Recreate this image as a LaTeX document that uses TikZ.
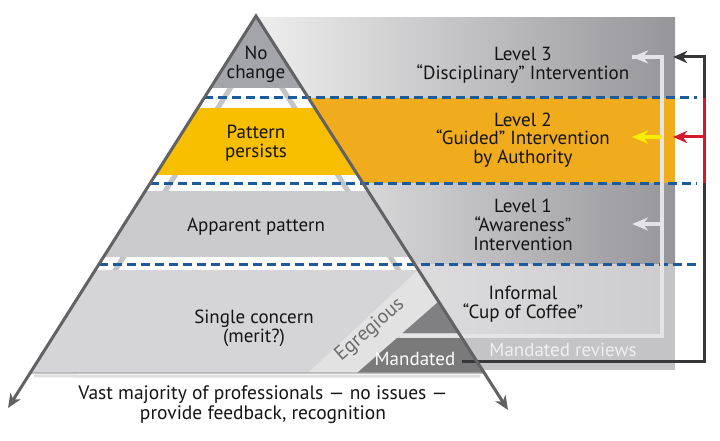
\documentclass[tikz,border=0pt]{standalone}
\usepackage{fontspec}
\setmainfont{PT Sans}
\usetikzlibrary{arrows.meta,calc}
\definecolor{pnlL}{RGB}{238,238,238}
\definecolor{pnlR}{RGB}{150,150,154}
\definecolor{botL}{RGB}{230,230,231}
\definecolor{botR}{RGB}{205,205,207}
\definecolor{botO}{RGB}{196,196,198}
\definecolor{orangeband}{RGB}{241,172,30}
\definecolor{yband}{RGB}{247,191,0}
\definecolor{nochange}{RGB}{163,165,170}
\definecolor{apparent}{RGB}{203,203,205}
\definecolor{single}{RGB}{213,213,215}
\definecolor{strip}{RGB}{226,226,227}
\definecolor{darkgr}{RGB}{128,128,130}
\definecolor{sliver}{RGB}{196,196,198}
\definecolor{tri}{RGB}{98,98,100}
\definecolor{dashblue}{RGB}{28,90,155}
\definecolor{lightc}{RGB}{228,228,230}
\definecolor{darkc}{RGB}{55,55,58}
\definecolor{redc}{RGB}{215,25,45}
\definecolor{yelc}{RGB}{250,238,0}
\definecolor{txt}{RGB}{20,20,20}
\tikzset{
  lbl/.style={font=\fontsize{19}{18.8}\selectfont, align=center, inner sep=0pt, text=txt},
  dashline/.style={draw=dashblue, line width=3pt, dash pattern=on 9pt off 5pt},
  lightconn/.style={draw=lightc, line width=4pt},
  darkconn/.style={draw=darkc, line width=3pt},
  bigtip/.tip={Stealth[length=14pt,width=12pt,inset=4pt]},
  smalltip/.tip={Stealth[length=16pt,width=13pt,inset=5pt]},
}
\begin{document}
\begin{tikzpicture}[x=1pt,y=-1pt]
\useasboundingbox (0,0) rectangle (720,441);
% key points
\coordinate (apex) at (256,16);
\coordinate (lt) at (8,408);
\coordinate (rt) at (508,410);
\coordinate (bl) at ($(apex)!0.9107!(lt)$);
\coordinate (br) at ($(apex)!0.9061!(rt)$);
% right panel
\fill[left color=pnlL, right color=pnlR] (256,18) rectangle (675,98);
\fill[orangeband] (256,98) rectangle (675,183);
\fill[left color=pnlL, right color=pnlR] (256,183) rectangle (675,264);
\fill[botO] (256,264) rectangle (675,370);
\fill[left color=botL, right color=botR] (256,264) rectangle (662,336);
% pyramid bands
\begin{scope}
\clip (apex) -- (bl) -- (br) -- cycle;
\fill[white] (0,0) rectangle (720,380);
\fill[nochange] (0,0) rectangle (720,88);
\fill[yband] (0,108) rectangle (720,175);
\fill[apparent] (0,191) rectangle (720,257);
\fill[single] (0,270) rectangle (720,373);
\foreach \ya/\yb in {88/108, 175/191, 257/270}{
  \pgfmathsetmacro\la{256-(\ya-16)*0.6327}
  \pgfmathsetmacro\lb{256-(\yb-16)*0.6327}
  \pgfmathsetmacro\ra{256+(\ya-16)*0.6396}
  \pgfmathsetmacro\rb{256+(\yb-16)*0.6396}
  \fill[sliver] (\la+17,\ya) -- (\la+23,\ya) -- (\lb+23,\yb) -- (\lb+17,\yb) -- cycle;
  \fill[sliver] (\ra-17,\ya) -- (\ra-23,\ya) -- (\rb-23,\yb) -- (\rb-17,\yb) -- cycle;
}
% egregious strip, dark wedge, mandated band
\fill[strip] (308,373) -- (418,270) -- (470,270) -- (438,302) -- (357,373) -- cycle;
\fill[darkgr] (438,302) -- (402.7,333) -- (480,333) -- cycle;
\fill[darkgr!95!black] (397,338) -- (480,338) -- (500,373) -- (357,373) -- cycle;
\end{scope}
% bottom edge of pyramid
\draw[gray!25, line width=3pt] ($(bl)+(4,3)$) -- ($(br)+(-4,3)$);
\draw[gray!70, line width=1.2pt] (bl) -- (br);
% dashed level lines
\foreach \yy/\xs in {98/204, 183/150.3, 264/99}{
  \draw[dashline] (\xs,\yy) -- (697,\yy);
}
% named connector points
\coordinate (egr) at (400,335.5);
\coordinate (lc) at (662,335.5);
\coordinate (lt3) at (662,57);
\coordinate (lt2) at (662,137);
\coordinate (lt1) at (662,224);
\coordinate (tip3) at (632,57);
\coordinate (tip2) at (632,137);
\coordinate (tip1) at (632,224);
\coordinate (dk1) at (704,361);
\coordinate (dk2) at (704,57);
\coordinate (dtip3) at (673,57);
\coordinate (rd1) at (704,98);
\coordinate (rd2) at (704,183);
\coordinate (rdm) at (704,137);
\coordinate (rtip2) at (673,137);
% mandated reviews (light) connector
\draw[lightconn, line join=miter] (egr) -- (lc) -- (lt3) -- (tip3);
\draw[lightconn, -{smalltip}] (lt3) -- (tip3);
\draw[lightconn, -{smalltip}] (lt1) -- (tip1);
\draw[draw=yelc, fill=yelc, line width=4pt, -{smalltip}] (lt2) -- (tip2);
% texts in triangle bottom
\node[font=\fontsize{19}{19}\selectfont, text=white, inner sep=0pt] (mand) at (415,359) {Mandated};
% dark connector
\draw[darkconn, line join=miter, -{bigtip}] ([xshift=6pt]mand.east |- dk1) -- (dk1) -- (dk2) -- (dtip3);
\draw[draw=redc, line width=3pt] (rd1) -- (rd2);
\draw[draw=redc, line width=3pt, -{bigtip}] (rdm) -- (rtip2);
% pyramid outline
\draw[draw=tri, line width=3pt, line join=miter, {bigtip}-{bigtip}] (lt) -- (apex) -- (rt);
% labels
\node[lbl] (nochg) at (256,64) {No\\change};
\node[lbl] (patt) at (256,143) {Pattern\\persists};
\node[lbl] (appar) at (256,227) {Apparent pattern};
\node[lbl] (singl) at (254,328) {Single concern\\(merit?)};
\node[lbl] (lev3) at (523,65) {Level 3\\“Disciplinary” Intervention};
\node[lbl] (lev2) at (523,140) {Level 2\\“Guided” Intervention\\by Authority};
\node[lbl] (lev1) at (523,225) {Level 1\\“Awareness”\\Intervention};
\node[lbl] (infor) at (523,304) {Informal\\“Cup of Coffee”};
\node[lbl, text=lightc!60!white] (mrev) at (563,350) {Mandated reviews};
\node[font=\fontsize{20}{20}\selectfont, text=gray!85!black, inner sep=0pt, rotate=41] (egrt) at (370,330) {Egregious};
\node[lbl, font=\fontsize{19.5}{20}\selectfont] (vast) at (263,405) {Vast majority of professionals — no issues —\\provide feedback, recognition};
\end{tikzpicture}
\end{document}
